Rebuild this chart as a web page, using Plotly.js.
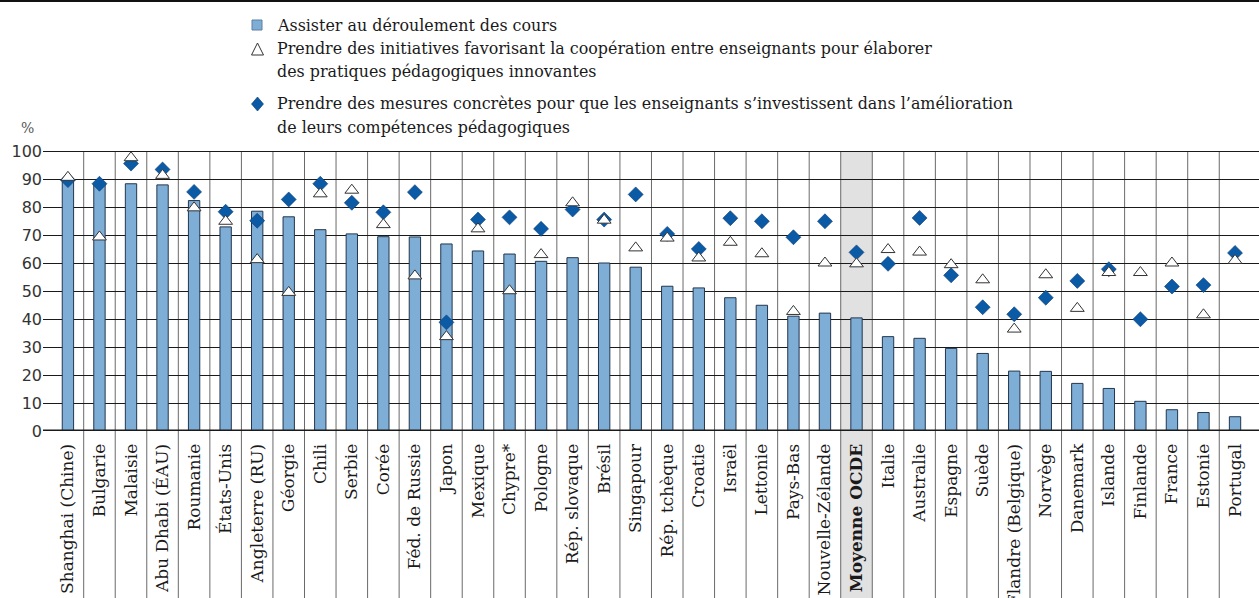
<!DOCTYPE html>
<html>
<head>
<meta charset="utf-8">
<script src="https://cdn.plot.ly/plotly-3.0.1.min.js"></script>
<style>
  html, body { margin: 0; padding: 0; background: #ffffff; }
  #chart { width: 1259px; height: 598px; }
</style>
</head>
<body>
<div id="chart"></div>
<script>
// ---------- Data ----------
const categories = [
  "Shanghai (Chine)", "Bulgarie", "Malaisie", "Abu Dhabi (ÉAU)", "Roumanie", "États-Unis",
  "Angleterre (RU)", "Géorgie", "Chili", "Serbie", "Corée", "Féd. de Russie", "Japon",
  "Mexique", "Chypre*", "Pologne", "Rép. slovaque", "Brésil", "Singapour", "Rép. tchèque",
  "Croatie", "Israël", "Lettonie", "Pays-Bas", "Nouvelle-Zélande", "Moyenne OCDE", "Italie",
  "Australie", "Espagne", "Suède", "Flandre (Belgique)", "Norvège", "Danemark", "Islande",
  "Finlande", "France", "Estonie", "Portugal"
];

// Assister au déroulement des cours (bars)
const observeClasses = [
  89.5, 88.5, 88.3, 87.9, 82.3, 72.9, 78.5, 76.5, 71.9, 70.4, 69.4, 69.3, 66.8,
  64.3, 63.2, 60.6, 61.9, 60.0, 58.5, 51.7, 51.1, 47.6, 44.9, 41.0, 42.1, 40.4, 33.7,
  33.1, 29.5, 27.7, 21.4, 21.3, 17.0, 15.2, 10.6, 7.6, 6.6, 5.1
];

// Prendre des initiatives favorisant la coopération (triangles)
const cooperation = [
  90.6, 69.3, 97.6, 91.3, 79.7, 74.9, 61.2, 49.5, 84.7, 86.0, 73.7, 55.4, 33.7,
  72.2, 50.1, 63.0, 81.5, 75.3, 65.4, 68.9, 61.8, 67.4, 63.3, 42.7, 60.0, 59.7, 64.8,
  63.9, 59.4, 54.0, 36.4, 55.8, 43.8, 56.6, 56.6, 60.0, 41.5, 60.9
];

// Prendre des mesures concrètes (diamonds)
const mesures = [
  89.6, 88.3, 95.5, 93.4, 85.4, 78.3, 75.1, 82.7, 88.3, 81.5, 78.1, 85.3, 38.8,
  75.5, 76.3, 72.2, 79.1, 75.5, 84.5, 70.4, 65.0, 76.0, 74.9, 69.2, 74.9, 63.8, 59.7,
  76.1, 55.6, 44.2, 41.7, 47.6, 53.6, 57.8, 39.9, 51.6, 52.1, 63.6
];

const yTicks = [0, 10, 20, 30, 40, 50, 60, 70, 80, 90, 100];
const highlight = "Moyenne OCDE";

const legendLabels = [
  "Assister au déroulement des cours",
  "Prendre des initiatives favorisant la coopération entre enseignants pour élaborer",
  "des pratiques pédagogiques innovantes",
  "Prendre des mesures concrètes pour que les enseignants s’investissent dans l’amélioration",
  "de leurs compétences pédagogiques"
];

// ---------- Layout helpers ----------
const W = 1259, H = 598;
const M = { l: 43, r: 0, t: 151, b: 167 };
const PW = W - M.l - M.r, PH = H - M.t - M.b;
const px = x => (x - M.l) / PW;          // pixel -> paper x
const py = y => (H - M.b - y) / PH;      // pixel -> paper y

const BAR_FILL = "#7eaed6";
const BAR_LINE = "#23364d";
const DIAMOND = "#0b5aa6";

const tickText = categories.map(c => c === highlight ? "<b>" + c + "</b>" : c);
const hIdx = categories.indexOf(highlight);

// ---------- Traces ----------
const traces = [
  {
    type: "bar", x: categories, y: observeClasses, name: legendLabels[0],
    marker: { color: BAR_FILL, line: { color: BAR_LINE, width: 1 } },
    width: 0.36, hoverinfo: "x+y", showlegend: false
  },
  {
    type: "scatter", mode: "markers", x: categories, y: mesures, name: legendLabels[3],
    marker: { symbol: "diamond", size: 11.5, color: DIAMOND, line: { color: "#0a3a70", width: 0.6 } },
    showlegend: false
  },
  {
    type: "scatter", mode: "markers", x: categories, y: cooperation, name: legendLabels[1],
    marker: { symbol: "triangle-up", size: 12, color: "#ffffff", line: { color: "#333333", width: 1 } },
    showlegend: false
  }
];

// ---------- Shapes ----------
const shapes = [];
// highlighted column background
shapes.push({
  type: "rect", layer: "below", xref: "x", yref: "paper",
  x0: hIdx - 0.5, x1: hIdx + 0.5, y0: -0.6, y1: 1,
  fillcolor: "#e1e1e1", line: { width: 0 }
});
// category separators (extend down through labels)
for (let i = 0; i < categories.length - 1; i++) {
  shapes.push({
    type: "line", layer: "below", xref: "x", yref: "paper",
    x0: i + 0.5, x1: i + 0.5, y0: -0.6, y1: 1,
    line: { color: "#6a6a6a", width: 1 }
  });
}
// top (100) line and baseline
shapes.push({ type: "line", layer: "above", xref: "paper", yref: "y", x0: 0, x1: 1, y0: 100, y1: 100,
  line: { color: "#1a1a1a", width: 2 } });
shapes.push({ type: "line", layer: "above", xref: "paper", yref: "y", x0: 0, x1: 1, y0: 0, y1: 0,
  line: { color: "#1a1a1a", width: 3 } });
// top border of the figure
shapes.push({ type: "line", xref: "paper", yref: "paper", x0: px(0), x1: px(W), y0: py(1), y1: py(1),
  line: { color: "#111111", width: 2 } });

// legend symbols
shapes.push({ type: "rect", xref: "paper", yref: "paper",
  x0: px(252), x1: px(262), y0: py(30), y1: py(20),
  fillcolor: BAR_FILL, line: { color: "#5f7f9f", width: 1 } });
shapes.push({ type: "path", xref: "paper", yref: "paper",
  path: `M ${px(251.5)} ${py(55)} L ${px(263.5)} ${py(55)} L ${px(257.5)} ${py(43)} Z`,
  fillcolor: "#ffffff", line: { color: "#333333", width: 1 } });
shapes.push({ type: "path", xref: "paper", yref: "paper",
  path: `M ${px(257.5)} ${py(97)} L ${px(263.5)} ${py(104)} L ${px(257.5)} ${py(111)} L ${px(251.5)} ${py(104)} Z`,
  fillcolor: DIAMOND, line: { color: "#0a3a70", width: 0.6 } });

// ---------- Annotations ----------
const legFont = { family: "DejaVu Serif, serif", size: 15.9, color: "#1a1a1a" };
const legY = [25, 49, 72, 104, 127];
const annotations = legendLabels.map((t, i) => ({
  xref: "paper", yref: "paper", x: px(275), y: py(legY[i]),
  xanchor: "left", yanchor: "middle", showarrow: false, text: t, font: legFont
}));
annotations.push({
  xref: "paper", yref: "paper", x: px(27), y: py(128), xanchor: "center", yanchor: "middle",
  showarrow: false, text: "%", font: { family: "DejaVu Serif, serif", size: 14, color: "#555555" }
});

const layout = {
  width: W, height: H,
  margin: M,
  paper_bgcolor: "#ffffff", plot_bgcolor: "rgba(0,0,0,0)",
  showlegend: false,
  bargap: 0.64,
  xaxis: {
    type: "category", range: [-0.79, 37.76],
    tickmode: "array", tickvals: categories, ticktext: tickText,
    tickangle: -90, automargin: false,
    showgrid: false, zeroline: false, showline: false,
    ticks: "outside", ticklen: 5, tickcolor: "rgba(0,0,0,0)",
    tickfont: { family: "DejaVu Serif, serif", size: 17, color: "#1a1a1a" },
    fixedrange: true
  },
  yaxis: {
    range: [0, 100], tickmode: "array", tickvals: yTicks, automargin: false,
    showgrid: true, gridcolor: "#1a1a1a", gridwidth: 1,
    zeroline: false, showline: false, ticks: "",
    tickfont: { family: "DejaVu Sans, sans-serif", size: 16, color: "#333333" },
    fixedrange: true
  },
  shapes: shapes,
  annotations: annotations
};

Plotly.newPlot("chart", traces, layout, { displayModeBar: false, staticPlot: true });
</script>
</body>
</html>
